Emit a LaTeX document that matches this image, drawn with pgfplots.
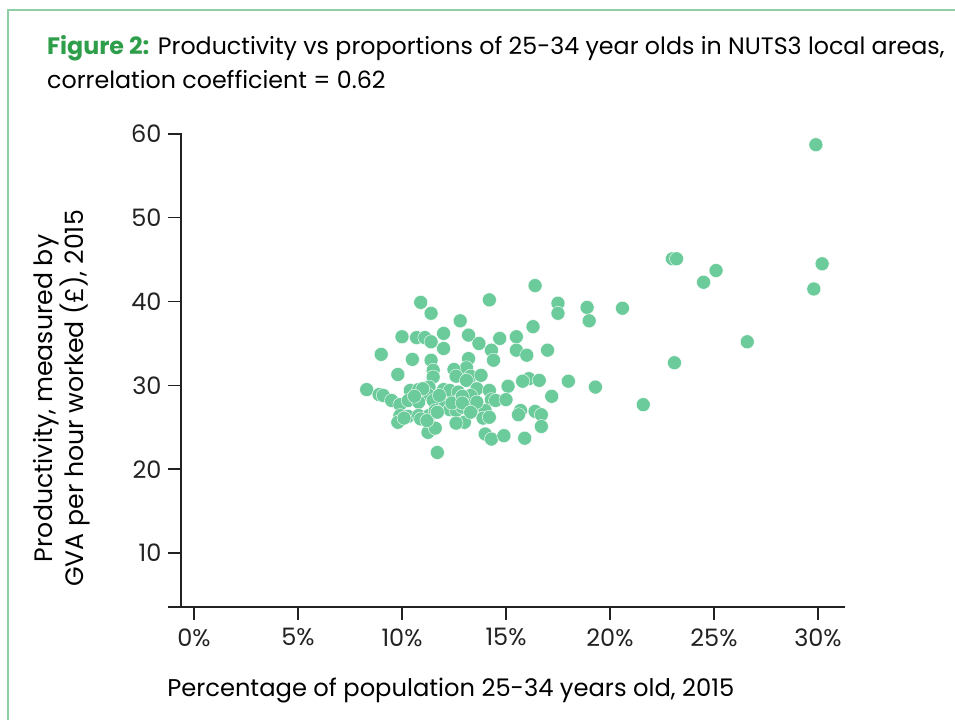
\documentclass[border=0pt]{standalone}
\usepackage{fontspec}
\setmainfont{Poppins}
\usepackage{pgfplots}
\pgfplotsset{compat=1.18}
\definecolor{dotgreen}{HTML}{6BCB9B}
\definecolor{figgreen}{HTML}{2E9E4A}
\definecolor{framegreen}{HTML}{8ECFA6}
\definecolor{axisdark}{HTML}{222222}
\begin{document}
\begin{tikzpicture}[x=1pt,y=1pt]
\useasboundingbox (0,0) rectangle (955,720);
\draw[framegreen, line width=1.6pt] (8,0) -- (8,710) -- (955,710);
\node[anchor=base west, inner sep=0pt, font=\fontsize{23.75}{28}\selectfont] at (47,665)
  {\textcolor{figgreen}{\bfseries Figure 2:} Productivity vs proportions of 25-34 year olds in NUTS3 local areas,};
\node[anchor=base west, inner sep=0pt, font=\fontsize{23.75}{28}\selectfont] at (47,631)
  {correlation coefficient = 0.62};
\begin{axis}[
  at={(181pt,113pt)}, anchor=south west,
  scale only axis, width=664pt, height=474pt,
  xmin=-0.625, xmax=31.3, ymin=3.57, ymax=60.1,
  axis lines=left,
  axis line style={-, line width=1.8pt, axisdark},
  x axis line style={shorten <=-13pt},
  tick align=outside,
  major tick length=13pt,
  tick style={line width=1.6pt, axisdark},
  xtick={0,5,10,15,20,25,30},
  xticklabels={0\%,5\%,10\%,15\%,20\%,25\%,30\%},
  ytick={10,20,30,40,50,60},
  /pgf/number format/assume math mode=true,
  tick label style={font=\fontsize{24}{28}\selectfont, text=axisdark},
  xticklabel style={yshift=-5pt},
  yticklabel style={xshift=-3pt},
  ylabel={Productivity, measured by\\GVA per hour worked (£), 2015},
  ylabel style={align=center, font=\fontsize{25.2}{30}\selectfont, at={(rel axis cs:-0.179,0.44)}, anchor=center},
  xlabel={Percentage of population 25-34 years old, 2015},
  xlabel style={font=\fontsize{24.2}{28}\selectfont, at={(rel axis cs:-0.026,-0.188)}, anchor=base west},
  clip=false,
]
\addplot[only marks, mark=*, mark size=7pt, mark options={fill=dotgreen, draw=white, line width=0.4pt}] coordinates {
(29.9,58.7) (23.0,45.1) (23.2,45.1) (25.1,43.7) (24.5,42.3) (30.2,44.5) (29.8,41.5)
(17.5,39.8) (17.5,38.6) (18.9,39.3) (19.0,37.7) (20.6,39.2) (26.6,35.2) (23.1,32.7)
(18.0,30.5) (19.3,29.8) (21.6,27.7)
(16.4,41.9) (10.9,39.9) (14.2,40.2) (11.4,38.6) (12.8,37.7) (16.3,37.0)
(10.0,35.8) (10.7,35.7) (11.1,35.7) (11.4,35.2) (12.0,36.2) (13.2,36.0) (13.7,35.0)
(14.7,35.6) (15.5,35.8) (12.0,34.4) (9.0,33.7) (14.3,34.2) (14.4,33.0) (15.5,34.2)
(16.0,33.6) (17.0,34.2) (10.5,33.1) (11.4,33.0) (13.2,33.2) (13.1,32.1) (12.5,31.9)
(11.5,31.8) (9.8,31.3) (11.5,31.0) (12.6,31.1) (13.3,31.1) (13.1,30.6) (13.8,31.2)
(16.1,30.8) (15.8,30.5) (16.6,30.6)
(8.3,29.5) (8.9,28.9) (9.1,28.8) (9.5,28.2) (10.4,29.4) (10.8,29.5) (11.3,29.8)
(11.25,28.9) (12.0,29.5) (12.3,29.4) (12.7,29.2) (13.6,29.6) (14.2,29.4) (14.3,28.3)
(14.5,28.2) (15.1,29.9) (15.0,28.3) (17.2,28.7)
(9.9,27.7) (10.3,28.2) (10.8,28.0) (11.5,28.2) (12.1,27.7) (12.7,28.1) (12.3,27.1)
(12.6,27.0) (12.9,27.4) (13.3,27.1) (13.8,27.0) (14.0,27.0) (15.7,27.0) (15.6,26.5)
(16.4,26.9) (16.7,26.5) (9.9,26.4) (10.3,26.3) (10.8,26.4) (11.3,26.4) (11.6,27.0)
(9.8,25.6) (10.9,26.0) (13.0,25.6) (12.6,25.5) (13.9,26.1) (14.2,26.2) (16.7,25.1)
(11.25,24.4) (11.6,24.9) (14.0,24.2) (14.3,23.6) (14.9,24.0) (15.9,23.7) (11.7,22.0)
(10.1,26.1) (11.2,25.8) (11.7,26.8) (12.4,27.9) (11.0,29.6) (10.6,28.7) (11.8,28.8)
(13.3,28.8) (13.6,28.0) (12.9,28.7) (12.9,27.9) (13.3,26.8)
};
\end{axis}
\end{tikzpicture}
\end{document}
